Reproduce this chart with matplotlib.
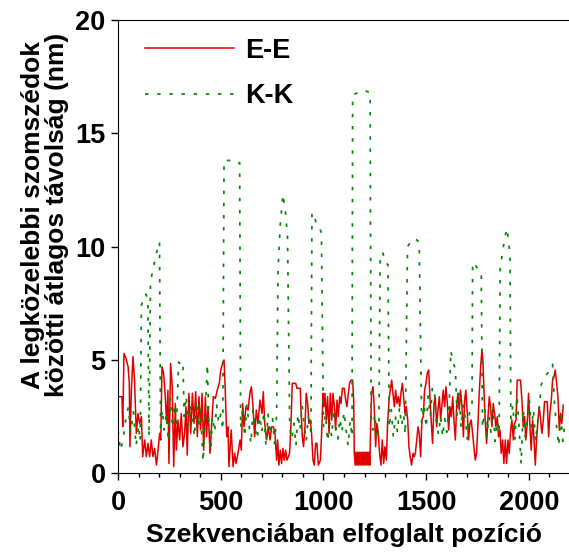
import matplotlib
matplotlib.use("Agg")
import matplotlib.pyplot as plt
from matplotlib.ticker import MultipleLocator

plt.rcParams["font.family"] = ["Liberation Sans", "DejaVu Sans"]
plt.rcParams["font.weight"] = "bold"

# E-E: position in sequence / mean distance (nm)
ee_x = [0, 19, 23, 29, 39, 49, 55, 58, 65, 73, 81, 89, 97, 105, 114, 120, 130, 138, 146, 154,
        162, 170, 178, 187, 195, 203, 208, 214, 222, 230, 237, 243, 248, 256, 264, 271, 279, 284,
        292, 300, 308, 316, 324, 331, 337, 345, 354, 362, 370, 378, 386, 394, 402, 409, 417, 425,
        431, 438, 448, 457, 464, 474, 483, 493, 500, 509, 516, 522, 529, 535, 540, 551, 560, 568,
        574, 584, 594, 600, 607, 613, 623, 633, 642, 649, 657, 665, 673, 681, 691, 701, 707, 714,
        723, 731, 740, 748, 756, 764, 772, 777, 783, 790, 796, 803, 809, 816, 822, 829, 835, 842,
        848, 865, 871, 887, 890, 897, 903, 910, 916, 923, 929, 936, 942, 949, 955, 962, 968, 975,
        985, 991, 998, 1002, 1007, 1014, 1020, 1027, 1033, 1040, 1046, 1053, 1059, 1066, 1072,
        1079, 1085, 1092, 1101, 1108, 1114, 1121, 1127, 1134, 1142, 1147, 1150,
        1154, 1158, 1162, 1166, 1170, 1174, 1178, 1182, 1186, 1190, 1194, 1198, 1202, 1206, 1210,
        1214, 1218, 1222, 1226,
        1228, 1234, 1241, 1247, 1254, 1260, 1267, 1273, 1280, 1286, 1293, 1299, 1306, 1312, 1319,
        1325, 1332, 1338, 1345, 1351, 1358, 1364, 1371, 1377, 1384, 1390, 1397, 1403, 1410, 1416,
        1422, 1429, 1436, 1442, 1447, 1454, 1460, 1466, 1473, 1479, 1486, 1492, 1499, 1505, 1512,
        1518, 1525, 1531, 1538, 1544, 1551, 1557, 1564, 1570, 1577, 1583, 1590, 1596, 1603, 1609,
        1616, 1622, 1629, 1635, 1642, 1648, 1654, 1661, 1667, 1674, 1681, 1687, 1693, 1700, 1706,
        1713, 1719, 1726, 1732, 1739, 1745, 1752, 1758, 1765, 1771, 1776, 1781, 1787, 1794, 1800,
        1807, 1813, 1820, 1826, 1833, 1839, 1846, 1852, 1859, 1865, 1872, 1878, 1885, 1891, 1898,
        1904, 1911, 1917, 1924, 1930, 1937, 1943, 1959, 1966, 1972, 1979, 1985, 1992, 1998, 2005,
        2011, 2018, 2024, 2031, 2037, 2044, 2050, 2057, 2063, 2070, 2076, 2089, 2096, 2102, 2109,
        2115, 2122, 2128, 2135, 2141, 2148, 2154, 2160, 2167]
ee_y = [3.37, 3.37, 2.05, 5.28, 5.06, 4.69, 3.96, 1.16, 3.66, 5.14, 3.96, 1.75, 2.63, 2.19, 2.49,
        0.72, 1.46, 0.72, 1.31, 0.72, 1.46, 0.72, 1.09, 0.35, 1.01, 1.75, 1.46, 4.69, 4.40, 3.37,
        2.19, 3.66, 0.42, 4.84, 3.81, 0.28, 3.07, 1.01, 2.34, 1.46, 2.63, 1.16, 1.75, 2.93, 0.79,
        3.52, 1.75, 3.52, 2.19, 3.59, 1.60, 3.37, 1.90, 3.52, 1.01, 3.37, 1.60, 2.93, 0.87, 2.34,
        3.37, 3.30, 3.66, 3.96, 4.55, 4.84, 4.99, 3.66, 1.60, 2.04, 0.28, 1.90, 0.28, 0.87, 0.42,
        0.87, 1.46, 1.01, 3.07, 2.04, 2.93, 2.78, 3.52, 3.81, 2.93, 1.60, 2.78, 2.19, 3.22, 2.63,
        3.59, 2.19, 1.46, 2.04, 1.46, 2.04, 2.04, 1.75, 0.57, 1.46, 0.35, 1.01, 0.42, 1.09, 0.57,
        1.01, 0.57, 0.72, 0.87, 2.19, 3.96, 3.96, 3.74, 3.74, 2.93, 1.60, 1.16, 2.04, 3.52, 3.07,
        2.19, 2.34, 1.75, 0.57, 0.35, 1.31, 1.31, 0.35, 0.57, 1.75, 3.52, 2.93, 3.52, 2.34, 3.37,
        1.75, 3.52, 2.34, 3.52, 2.93, 1.90, 3.22, 2.49, 3.37, 3.07, 3.74, 3.74, 3.22, 2.93, 3.52,
        3.96, 4.10, 4.10, 3.22, 0.87,
        0.35, 0.92, 0.35, 0.92, 0.35, 0.92, 0.35, 0.92, 0.35, 0.92, 0.35, 0.92, 0.35, 0.92, 0.35,
        0.92, 0.35, 0.92, 0.35,
        1.46, 3.52, 3.81, 2.93, 1.16, 2.19, 1.75, 0.87, 0.35, 1.46, 0.42, 1.16, 0.57, 2.19, 3.22,
        3.66, 4.10, 3.52, 2.93, 3.66, 3.07, 3.37, 2.93, 3.52, 3.96, 3.37, 2.63, 2.93, 2.34, 1.16,
        0.72, 0.35, 0.87, 0.72, 0.87, 1.46, 2.04, 1.75, 0.72, 2.34, 2.49, 3.66, 3.96, 4.40, 4.55,
        3.37, 2.19, 1.31, 3.07, 3.37, 2.04, 2.78, 3.37, 2.34, 3.07, 3.66, 2.93, 3.81, 3.07, 1.90,
        2.93, 2.49, 3.37, 2.34, 1.46, 2.93, 3.52, 2.78, 3.66, 2.93, 1.60, 3.22, 3.66, 2.63, 1.46,
        2.19, 2.34, 1.75, 1.16, 0.57, 0.87, 2.19, 3.52, 4.69, 5.43, 4.99, 3.66, 2.34, 1.31, 2.34,
        3.37, 2.93, 2.04, 3.07, 2.63, 2.04, 2.49, 1.60, 1.90, 0.87, 1.46, 0.42, 1.46, 0.42, 1.46,
        0.87, 1.90, 2.34, 1.46, 2.19, 2.34, 4.10, 4.10, 3.22, 2.04, 2.49, 1.46, 2.19, 3.52, 2.04,
        1.01, 2.34, 1.60, 0.35, 1.46, 2.34, 2.93, 2.34, 1.75, 2.34, 3.15, 3.15, 1.60, 2.63, 3.22,
        4.10, 4.25, 4.55, 3.96, 3.37, 1.90, 2.63, 2.19, 3.00]

# K-K
kk_x = [0, 12, 25, 38, 50, 62, 75, 88, 100, 108, 114, 124, 135, 145, 151, 158, 168, 180, 192,
        202, 207, 215, 225, 235, 245, 255, 265, 275, 285, 295, 305, 316, 322, 332, 342, 352, 362,
        372, 382, 392, 402, 414, 424, 435, 442, 451, 460, 470, 480, 490, 500, 510, 516, 540, 560,
        575, 592, 597, 607, 617, 627, 637, 647, 657, 667, 677, 690, 700, 710, 720, 730, 740, 752,
        762, 772, 779, 790, 803, 815, 825, 836, 846, 856, 866, 876, 886, 896, 906, 916, 926, 939,
        944, 955, 965, 978, 990, 1000, 1010, 1020, 1030, 1040, 1050, 1060, 1070, 1080, 1090, 1100,
        1110, 1120, 1130, 1139, 1142, 1170, 1195, 1227, 1232, 1240, 1250, 1260, 1270, 1276, 1290,
        1300, 1314, 1320, 1330, 1340, 1350, 1360, 1370, 1380, 1390, 1398, 1409, 1425, 1437, 1452,
        1466, 1478, 1490, 1500, 1510, 1520, 1530, 1540, 1550, 1560, 1570, 1580, 1590, 1600, 1612,
        1620, 1630, 1642, 1650, 1660, 1670, 1680, 1690, 1700, 1712, 1723, 1726, 1740, 1755, 1768,
        1774, 1785, 1795, 1805, 1815, 1825, 1835, 1845, 1855, 1860, 1872, 1885, 1893, 1900, 1908,
        1912, 1922, 1932, 1942, 1952, 1962, 1972, 1982, 1992, 2002, 2012, 2022, 2032, 2042, 2052,
        2060, 2075, 2090, 2105, 2115, 2125, 2135, 2145, 2155, 2165, 2175]
kk_y = [1.9, 1.0, 1.5, 2.4, 2.9, 1.8, 2.7, 1.2, 2.1, 1.4, 7.4, 7.8, 7.9, 7.7, 1.6, 8.4, 8.9, 9.4,
        9.9, 10.2, 1.8, 2.8, 1.9, 2.6, 1.4, 3.3, 2.0, 3.0, 2.2, 4.9, 4.8, 4.9, 2.5, 3.4, 2.1, 3.0,
        2.4, 1.6, 3.2, 2.0, 2.8, 0.5, 2.6, 4.8, 2.3, 1.0, 2.5, 1.8, 3.0, 2.2, 2.6, 1.9, 13.8, 13.8,
        13.8, 13.7, 13.7, 2.0, 2.8, 1.6, 3.0, 2.2, 1.3, 2.8, 2.0, 1.5, 2.5, 1.8, 2.7, 1.2, 2.6, 1.7,
        2.4, 1.3, 2.6, 9.0, 11.0, 12.3, 11.5, 10.4, 2.0, 1.5, 2.2, 1.2, 2.6, 1.9, 3.0, 2.1, 1.4, 2.5,
        1.8, 11.5, 11.4, 11.0, 10.9, 10.6, 2.0, 2.6, 1.4, 2.2, 1.6, 2.8, 2.0, 1.5, 2.4, 1.8, 2.7,
        1.9, 1.2, 2.3, 1.6, 16.7, 16.8, 16.9, 16.8, 2.5, 1.9, 2.6, 1.5, 2.2, 9.7, 9.7, 9.3, 9.2,
        2.0, 2.8, 1.6, 2.5, 1.8, 2.9, 2.1, 2.6, 1.7, 10.0, 10.2, 10.35, 10.3, 10.2, 2.2, 3.0, 2.0,
        3.4, 2.5, 3.8, 3.6, 2.2, 1.7, 2.5, 1.6, 2.4, 1.8, 3.0, 5.4, 4.9, 4.6, 2.5, 3.6, 2.0, 3.0,
        2.4, 1.5, 2.8, 3.0, 9.3, 9.2, 8.9, 8.8, 2.0, 2.8, 1.6, 2.5, 1.8, 2.9, 1.4, 2.3, 1.8, 9.0,
        9.8, 10.5, 10.8, 10.3, 9.6, 2.4, 3.0, 1.5, 3.4, 2.0, 0.4, 2.8, 1.6, 2.4, 3.2, 2.0, 2.8, 1.4,
        2.2, 3.0, 3.9, 4.2, 4.4, 4.6, 4.8, 3.0, 2.0, 1.2, 2.5, 1.4, 2.2]

fig = plt.figure(figsize=(5.69, 5.58), dpi=100)
ax = fig.add_axes([0.2074, 0.1523, 0.7926, 0.8118])

ax.plot(ee_x, ee_y, color="#e00000", lw=1.1, label="E-E")
ax.plot(kk_x, kk_y, color="#008a00", lw=1.25, ls=(0, (2, 5)), label="K-K")

ax.set_xlim(0, 2195)
ax.set_ylim(0, 20)
ax.xaxis.set_major_locator(MultipleLocator(500))
ax.xaxis.set_minor_locator(MultipleLocator(100))
ax.yaxis.set_major_locator(MultipleLocator(5))
ax.tick_params(which="major", direction="out", length=5, width=1, labelsize=19.5)
ax.tick_params(which="minor", direction="out", length=3, width=1)
ax.tick_params(axis="x", pad=7)
ax.tick_params(axis="y", pad=4)
ax.spines["right"].set_visible(False)

ax.set_xlabel("Szekvenciában elfoglalt pozíció", fontsize=19, fontweight="bold", labelpad=5)
ax.set_ylabel("A legközelebbi szomszédok\nközötti átlagos távolság (nm)", fontsize=19,
              fontweight="bold", linespacing=1.0)
ax.yaxis.set_label_coords(-0.108, 0.57)

leg = ax.legend(loc="upper left", bbox_to_anchor=(0.006, 1.015), frameon=False, fontsize=19.5,
                handlelength=3.3, labelspacing=0.72, handletextpad=0.4)

fig.savefig("out.png", dpi=100)
